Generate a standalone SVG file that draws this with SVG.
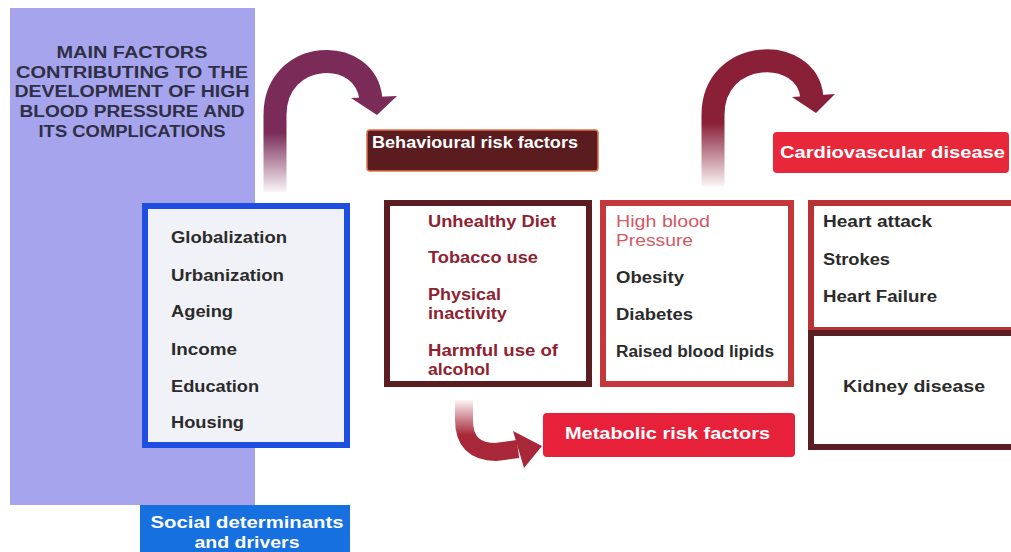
<svg xmlns="http://www.w3.org/2000/svg" width="1011" height="552" viewBox="0 0 1011 552">
  <defs>
    <linearGradient id="gradLeft" gradientUnits="userSpaceOnUse" x1="0" y1="60" x2="0" y2="192">
      <stop offset="0" stop-color="#7a2b58"/>
      <stop offset="0.55" stop-color="#7a2b58"/>
      <stop offset="1" stop-color="#7a2b58" stop-opacity="0.05"/>
    </linearGradient>
    <linearGradient id="gradRight" gradientUnits="userSpaceOnUse" x1="0" y1="60" x2="0" y2="186">
      <stop offset="0" stop-color="#8a2038"/>
      <stop offset="0.5" stop-color="#8a2038"/>
      <stop offset="1" stop-color="#8a2038" stop-opacity="0.05"/>
    </linearGradient>
    <linearGradient id="gradBottom" gradientUnits="userSpaceOnUse" x1="0" y1="400" x2="0" y2="450">
      <stop offset="0" stop-color="#a8283a" stop-opacity="0.05"/>
      <stop offset="0.7" stop-color="#a8283a"/>
      <stop offset="1" stop-color="#a8283a"/>
    </linearGradient>
    <style>
      text { font-family: "Liberation Sans", Arial, sans-serif; }
      .title { font-size: 16px; font-weight: bold; fill: #2e2f45; text-anchor: middle; }
      .item { font-size: 17px; font-weight: bold; fill: #2b2b2b; }
      .behav { font-size: 16px; font-weight: bold; fill: #8e2231; }
      .meta { font-size: 16px; font-weight: bold; fill: #2b2b2b; }
      .hbp { font-size: 16px; font-weight: normal; fill: #d25a66; }
      .label { font-size: 16px; font-weight: bold; fill: #ffffff; }
      .box { fill: #ffffff; stroke-width: 6; }
    </style>
  </defs>

  <rect width="1011" height="552" fill="#ffffff"/>

  <!-- background panel with heading -->
  <g id="panel">
    <rect x="10" y="8" width="245" height="497" fill="#a7a4ee"/>
    <text class="title" x="132" y="58" textLength="151" lengthAdjust="spacingAndGlyphs">MAIN FACTORS</text>
    <text class="title" x="132" y="78" textLength="232" lengthAdjust="spacingAndGlyphs">CONTRIBUTING TO THE</text>
    <text class="title" x="132" y="97" textLength="235" lengthAdjust="spacingAndGlyphs">DEVELOPMENT OF HIGH</text>
    <text class="title" x="132" y="117" textLength="225" lengthAdjust="spacingAndGlyphs">BLOOD PRESSURE AND</text>
    <text class="title" x="132" y="137" textLength="187" lengthAdjust="spacingAndGlyphs">ITS COMPLICATIONS</text>
  </g>

  <!-- connectors -->
  <g id="connectors">
    <path d="M275,192 L275,115 C275,48 367,45 371,100" fill="none" stroke="url(#gradLeft)" stroke-width="23"/>
    <polygon points="351,98 397,96 377,115" fill="#7a2b58"/>
    <path d="M713,186 L713,115 C713,47 808,45 812,98" fill="none" stroke="url(#gradRight)" stroke-width="23"/>
    <polygon points="792,97 835,94 816,113" fill="#8a2038"/>
    <path d="M464,400 L464,420 Q464,452 496,452 L518,449" fill="none" stroke="url(#gradBottom)" stroke-width="18"/>
    <polygon points="513,431 542,446 524,468" fill="#a8283a"/>
  </g>

  <!-- social determinants -->
  <g id="social-list">
    <rect x="145" y="206" width="202" height="239" fill="#f0f2f7" stroke="#1f4fe0" stroke-width="6"/>
    <text class="item" x="171" y="243" textLength="116" lengthAdjust="spacingAndGlyphs">Globalization</text>
    <text class="item" x="171" y="281" textLength="113" lengthAdjust="spacingAndGlyphs">Urbanization</text>
    <text class="item" x="171" y="317" textLength="62" lengthAdjust="spacingAndGlyphs">Ageing</text>
    <text class="item" x="171" y="355" textLength="66" lengthAdjust="spacingAndGlyphs">Income</text>
    <text class="item" x="171" y="392" textLength="88" lengthAdjust="spacingAndGlyphs">Education</text>
    <text class="item" x="171" y="428" textLength="73" lengthAdjust="spacingAndGlyphs">Housing</text>
  </g>

  <g id="social-label">
    <rect x="140" y="505" width="210" height="47" fill="#1670e0"/>
    <text class="label" x="247" y="528" text-anchor="middle" textLength="193" lengthAdjust="spacingAndGlyphs" fill="#f4f6ff">Social determinants</text>
    <text class="label" x="247" y="548" text-anchor="middle" textLength="105" lengthAdjust="spacingAndGlyphs">and drivers</text>
  </g>

  <!-- behavioural risk factors -->
  <g id="behavioural-label">
    <rect x="367" y="130" width="231" height="41" rx="3" fill="#5a1c1e" stroke="#e0704a" stroke-width="1.5"/>
    <text class="label" x="372" y="148" textLength="206" lengthAdjust="spacingAndGlyphs" fill="#eeeeee">Behavioural risk factors</text>
  </g>

  <g id="behavioural-list">
    <rect class="box" x="387" y="203" width="202" height="181" stroke="#5a1e22"/>
    <text class="behav" x="428" y="227" textLength="128" lengthAdjust="spacingAndGlyphs">Unhealthy Diet</text>
    <text class="behav" x="428" y="263" textLength="110" lengthAdjust="spacingAndGlyphs">Tobacco use</text>
    <text class="behav" x="428" y="300" textLength="73" lengthAdjust="spacingAndGlyphs">Physical</text>
    <text class="behav" x="428" y="319" textLength="79" lengthAdjust="spacingAndGlyphs">inactivity</text>
    <text class="behav" x="428" y="356" textLength="130" lengthAdjust="spacingAndGlyphs">Harmful use of</text>
    <text class="behav" x="428" y="375" textLength="62" lengthAdjust="spacingAndGlyphs">alcohol</text>
  </g>

  <!-- metabolic risk factors -->
  <g id="metabolic-list">
    <rect class="box" x="603" y="203" width="188" height="181" stroke="#c4383c"/>
    <text class="hbp" x="616" y="227" textLength="94" lengthAdjust="spacingAndGlyphs">High blood</text>
    <text class="hbp" x="616" y="246" textLength="77" lengthAdjust="spacingAndGlyphs">Pressure</text>
    <text class="meta" x="616" y="283" textLength="68" lengthAdjust="spacingAndGlyphs">Obesity</text>
    <text class="meta" x="616" y="320" textLength="77" lengthAdjust="spacingAndGlyphs">Diabetes</text>
    <text class="meta" x="616" y="357" textLength="158" lengthAdjust="spacingAndGlyphs">Raised blood lipids</text>
  </g>

  <g id="metabolic-label">
    <rect x="543" y="413" width="252" height="44" rx="4" fill="#e8213b"/>
    <text class="label" x="565" y="439" textLength="205" lengthAdjust="spacingAndGlyphs" fill="#f6e4e6">Metabolic risk factors</text>
  </g>

  <!-- outcomes -->
  <g id="cardiovascular-label">
    <rect x="773" y="132" width="236" height="41" rx="4" fill="#e8283a"/>
    <text class="label" x="780" y="158" textLength="225" lengthAdjust="spacingAndGlyphs" fill="#f6e4e6">Cardiovascular disease</text>
  </g>

  <g id="cardiovascular-list">
    <rect class="box" x="811" y="203" width="206" height="127" stroke="#b83236"/>
    <text class="meta" x="823" y="227" textLength="109" lengthAdjust="spacingAndGlyphs">Heart attack</text>
    <text class="meta" x="823" y="265" textLength="67" lengthAdjust="spacingAndGlyphs">Strokes</text>
    <text class="meta" x="823" y="302" textLength="114" lengthAdjust="spacingAndGlyphs">Heart Failure</text>
  </g>

  <g id="kidney">
    <rect class="box" x="811" y="333" width="206" height="114" stroke="#5a1f22"/>
    <text class="meta" x="914" y="392" text-anchor="middle" textLength="142" lengthAdjust="spacingAndGlyphs">Kidney disease</text>
  </g>
</svg>
